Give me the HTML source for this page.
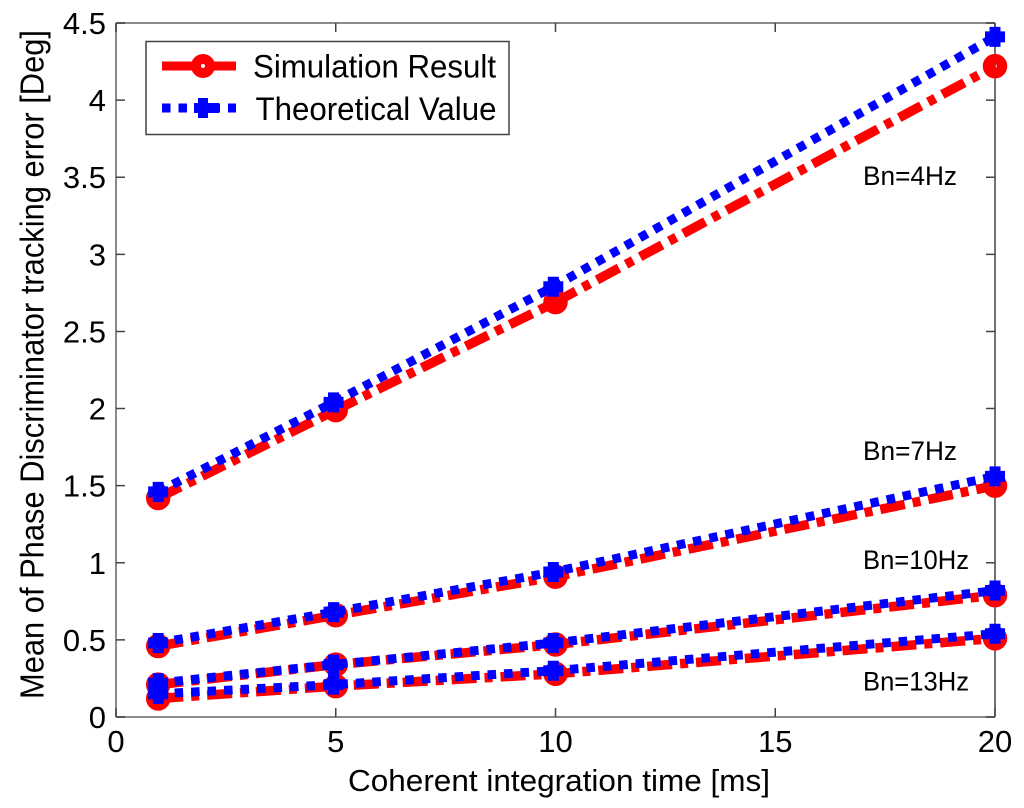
<!DOCTYPE html>
<html>
<head>
<meta charset="utf-8">
<style>
html,body{margin:0;padding:0;background:#fff;}
svg{display:block;font-family:"Liberation Sans",sans-serif;fill:#000;}
</style>
</head>
<body>
<svg id="chart" xmlns="http://www.w3.org/2000/svg" width="1024" height="808" viewBox="0 0 1024 808">
<rect x="116" y="23" width="879" height="694" fill="#fff"/>
<g id="axes"></g>
<g id="series"></g>
<text x="348" y="791" font-size="31" textLength="422" lengthAdjust="spacingAndGlyphs">Coherent integration time [ms]</text>
<text transform="translate(43.5,699) rotate(-90)" font-size="33" textLength="669" lengthAdjust="spacingAndGlyphs">Mean of Phase Discriminator tracking error [Deg]</text>
<text x="863" y="185" font-size="27" textLength="94" lengthAdjust="spacingAndGlyphs">Bn=4Hz</text>
<text x="863" y="460" font-size="27" textLength="94" lengthAdjust="spacingAndGlyphs">Bn=7Hz</text>
<text x="863" y="569" font-size="27" textLength="106" lengthAdjust="spacingAndGlyphs">Bn=10Hz</text>
<text x="863" y="690.5" font-size="27" textLength="106" lengthAdjust="spacingAndGlyphs">Bn=13Hz</text>
<g>
<rect x="146" y="41.5" width="363" height="93" fill="#fff" stroke="#444" stroke-width="1.5"/>
<line x1="162" y1="66" x2="236" y2="66" stroke="#f00" stroke-width="9"/>
<circle cx="203" cy="66" r="7" fill="#fff" stroke="#f00" stroke-width="10"/>
<text x="253" y="77.5" font-size="32" textLength="243" lengthAdjust="spacingAndGlyphs">Simulation Result</text>
<line x1="162" y1="108" x2="236" y2="108" stroke="#00f" stroke-width="9" stroke-dasharray="8.5 8"/>
<path d="M194 108H219M203 98V118" fill="none" stroke="#00f" stroke-width="10"/>
<text x="255.5" y="120" font-size="32" textLength="241" lengthAdjust="spacingAndGlyphs">Theoretical Value</text>
</g>
</svg>
<script>
var simTimes = [0.96, 5, 10, 20];
var theoTimes = [0.96, 4.95, 9.95, 20];
var xTicks = [0, 5, 10, 15, 20];
var yTicks = [0, 0.5, 1, 1.5, 2, 2.5, 3, 3.5, 4, 4.5];
var simBn4 = [1.42, 1.99, 2.69, 4.22];
var simBn7 = [0.46, 0.66, 0.91, 1.50];
var simBn10 = [0.21, 0.34, 0.47, 0.79];
var simBn13 = [0.12, 0.20, 0.28, 0.51];
var theoBn4 = [1.46, 2.04, 2.79, 4.41];
var theoBn7 = [0.48, 0.68, 0.94, 1.56];
var theoBn10 = [0.22, 0.34, 0.48, 0.82];
var theoBn13 = [0.15, 0.21, 0.30, 0.54];

var NS = 'http://www.w3.org/2000/svg';
function X(v) { return 116 + (v / 20) * 879; }
function Y(v) { return 717 - (v / 4.5) * 694; }
function mk(parent, tag, attrs) {
  var el = document.createElementNS(NS, tag);
  for (var k in attrs) el.setAttribute(k, attrs[k]);
  parent.appendChild(el);
  return el;
}
var axes = document.getElementById('axes');
var series = document.getElementById('series');

function drawAxes() {
  var frame = mk(axes, 'path', { d: 'M116 23H995M116 23V717M116 717H995', fill: 'none', stroke: '#8a8a8a', 'stroke-width': 2 });
  
  
  var right = mk(axes, 'line', { x1: 995, y1: 23, x2: 995, y2: 717, stroke: '#444', 'stroke-width': 1.5 });
  
  
  xTicks.forEach(function (t) {
    var p = mk(axes, 'path', { d: 'M' + X(t) + ' 717v-9M' + X(t) + ' 23v9', stroke: '#444', 'stroke-width': 1.5, fill: 'none' });
    
    
    var l = mk(axes, 'text', { x: X(t), y: 752, 'font-size': 31, 'text-anchor': 'middle' });
    
    
    l.textContent = String(t);
  });
  yTicks.forEach(function (t) {
    var p = mk(axes, 'path', { d: 'M116 ' + Y(t) + 'h9M995 ' + Y(t) + 'h-9', stroke: '#444', 'stroke-width': 1.5, fill: 'none' });
    
    
    var l = mk(axes, 'text', { x: 106, y: Y(t) + 11, 'font-size': 31, 'text-anchor': 'end' });
    
    
    l.textContent = String(t);
  });
}
function pts(vals, times) {
  return vals.map(function (v, i) { return X(times[i]) + ',' + Y(v); }).join(' ');
}
function drawSim(vals, name) {
  var line = mk(series, 'polyline', { points: pts(vals, simTimes), fill: 'none', stroke: '#f00', 'stroke-width': 9.5, 'stroke-dasharray': '25 8 8 8' });
  
  
  vals.forEach(function (v, i) {
    var c = mk(series, 'circle', { cx: X(simTimes[i]), cy: Y(v), r: 7, fill: 'none', stroke: '#f00', 'stroke-width': 10.5 });
    
    
  });
}
function drawTheo(vals, name) {
  var line = mk(series, 'polyline', { points: pts(vals, theoTimes), fill: 'none', stroke: '#00f', 'stroke-width': 9, 'stroke-dasharray': '8.5 8' });
  
  
  vals.forEach(function (v, i) {
    var x = X(theoTimes[i]), y = Y(v);
    var p = mk(series, 'path', { d: 'M' + (x - 10) + ' ' + y + 'h20M' + x + ' ' + (y - 10) + 'v20', fill: 'none', stroke: '#00f', 'stroke-width': 11 });
    
    
  });
}
drawAxes();
drawSim(simBn4, 'simulation-bn4');
drawSim(simBn7, 'simulation-bn7');
drawSim(simBn10, 'simulation-bn10');
drawSim(simBn13, 'simulation-bn13');
drawTheo(theoBn4, 'theoretical-bn4');
drawTheo(theoBn7, 'theoretical-bn7');
drawTheo(theoBn10, 'theoretical-bn10');
drawTheo(theoBn13, 'theoretical-bn13');
</script>
</body>
</html>
